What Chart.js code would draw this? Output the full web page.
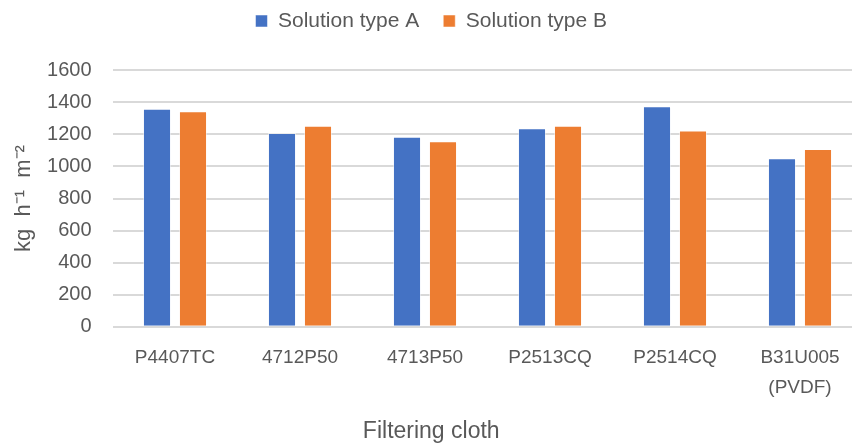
<!DOCTYPE html>
<html>
<head>
<meta charset="utf-8">
<script src="https://cdn.jsdelivr.net/npm/chart.js@4"></script>
<style>
  body { margin: 0; overflow: hidden; background: #fff; }
  #wrap { width: 872px; height: 448px; }
</style>
</head>
<body>
<div id="wrap"><canvas id="chart" width="872" height="448"></canvas></div>
<script>
// data
const cloths = ['P4407TC', '4712P50', '4713P50', 'P2513CQ', 'P2514CQ', ['B31U005', '(PVDF)']];
const solutionA = [1360, 1209, 1186, 1238, 1375, 1051];
const solutionB = [1344, 1254, 1157, 1254, 1225, 1109];
const seriesNames = ['Solution type A', 'Solution type B'];
const yMin = 0, yMax = 1600, yStep = 200;

const FONT = "'Liberation Sans', Arial, sans-serif";
const GREY = '#595959';

const ctx = document.getElementById('chart').getContext('2d');
const chart = new Chart(ctx, {
    type: 'bar',
    data: {
        labels: cloths,
        datasets: [{
            label: seriesNames[0],
            data: solutionA,
            backgroundColor: '#4472C4',
            borderColor: 'rgba(255,255,255,0.5)',
            borderWidth: 1
        }, {
            label: seriesNames[1],
            data: solutionB,
            backgroundColor: '#ED7D31',
            borderColor: 'rgba(255,255,255,0.5)',
            borderWidth: 1
        }]
    },
    options: {
        responsive: false,
        animation: false,
        devicePixelRatio: 1,
        layout: { padding: { top: -13.5, right: 9.5, left: 0, bottom: 0 } },
        datasets: {
            bar: { categoryPercentage: 0.576, barPercentage: 0.78 }
        },
        plugins: {
            tooltip: { enabled: false },
            legend: {
                position: 'top',
                weight: 2000,
                labels: {
                    boxWidth: 12,
                    boxHeight: 12,
                    padding: 24,
                    color: GREY,
                    font: { family: FONT, size: 21 }
                }
            },
            // empty subtitle used as a gap between legend and plot
            subtitle: {
                display: true,
                position: 'top',
                weight: 500,
                text: '',
                font: { size: 28.8, lineHeight: 1 },
                padding: 0
            },
            title: {
                display: true,
                position: 'bottom',
                text: 'Filtering cloth',
                color: GREY,
                font: { family: FONT, size: 23, weight: 'normal', lineHeight: 1 },
                padding: { top: 0, bottom: 5 }
            }
        },
        scales: {
            x: {
                grid: { display: false, drawTicks: false },
                border: { display: false },
                ticks: {
                    color: GREY,
                    padding: 16,
                    maxRotation: 0,
                    autoSkip: false,
                    font: { family: FONT, size: 19, lineHeight: 1.58 }
                },
                afterFit: (s) => { s.height = 93.3; }
            },
            y: {
                min: yMin,
                max: yMax,
                ticks: {
                    stepSize: yStep,
                    color: GREY,
                    padding: 21,
                    format: { useGrouping: false },
                    font: { family: FONT, size: 20 }
                },
                grid: { color: '#d9d9d9', lineWidth: 2, drawTicks: false },
                border: { display: false },
                title: {
                    display: true,
                    text: 'kg  h\u207B\u00B9  m\u207B\u00B2',
                    color: GREY,
                    padding: { top: 11, bottom: 0 },
                    font: { family: FONT, size: 22, lineHeight: 1.2 }
                },
                afterFit: (s) => { s.width = 112.5; }
            }
        }
    }
});
</script>
</body>
</html>
